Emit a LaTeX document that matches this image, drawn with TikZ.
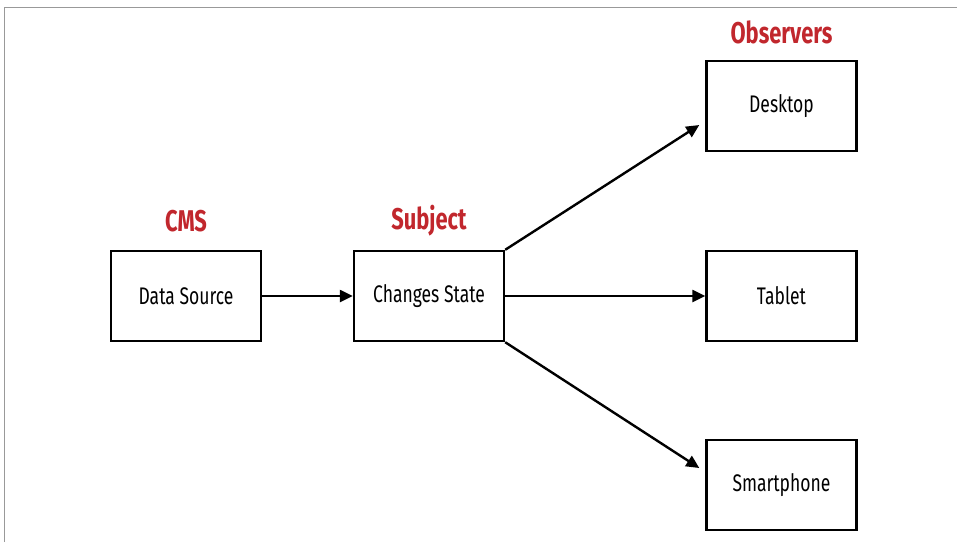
\documentclass[tikz,border=0pt]{standalone}
\usepackage{fontspec}
\setmainfont[FakeStretch=0.73]{Fira Sans}
\usetikzlibrary{arrows.meta}
\definecolor{lblred}{HTML}{C1272D}
\tikzset{
  box/.style={draw, line width=2.4pt, minimum width=150pt, minimum height=90pt, inner sep=0pt, font=\fontsize{24}{28}\selectfont},
  title/.style={text=lblred, font=\fontsize{30}{34}\selectfont\bfseries, inner sep=0pt},
  conn/.style={line width=2.4pt, -{Triangle[length=13pt,width=12pt]}},
}
\begin{document}
\begin{tikzpicture}[x=1pt,y=-1pt]
\useasboundingbox (0,0) rectangle (957,542);
\draw[gray!80, line width=1.6pt] (4.5,542) -- (4.5,7.5) -- (957,7.5);
\node[box] (ds) at (186,296) {Data Source};
\node[box] (cs) at (429,296) {Changes State};
\node[box] (dt) at (781.5,106) {Desktop};
\node[box] (tb) at (781.5,296) {Tablet};
\node[box] (sp) at (781.5,485) {Smartphone};
\node[title] (cms) at (186,221) {CMS};
\node[title] (sub) at (429,221) {Subject};
\node[title] (obs) at (781.5,32) {Observers};
\draw[conn] (ds.east) -- (cs.west);
\draw[conn] (cs.north east) -- ([xshift=-6pt,yshift=-19pt]dt.west);
\draw[conn] (cs.east) -- (tb.west);
\draw[conn] (cs.south east) -- ([xshift=-6pt,yshift=17pt]sp.west);
\end{tikzpicture}
\end{document}
